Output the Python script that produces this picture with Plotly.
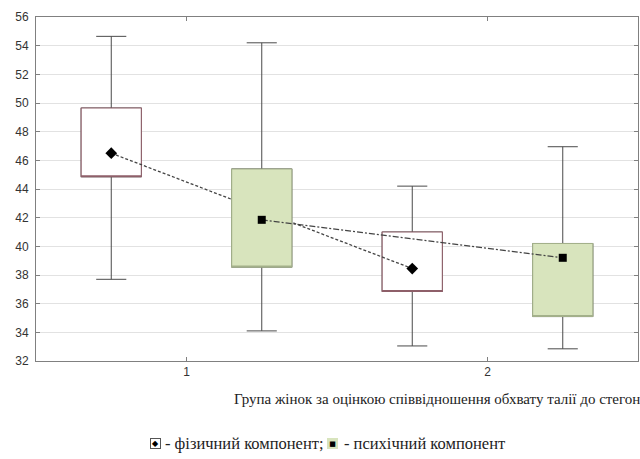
import plotly.graph_objects as go

# ---- data ----
groups = [1, 2]
tick_labels = ["1", "2"]

phys_upper = [54.65, 44.2]
phys_q3 = [49.65, 41.0]
phys_mean = [46.5, 38.45]
phys_q1 = [44.85, 36.85]
phys_lower = [37.7, 33.05]

ment_upper = [54.2, 46.95]
ment_q3 = [45.4, 40.2]
ment_mean = [41.85, 39.2]
ment_q1 = [38.55, 35.1]
ment_lower = [34.1, 32.85]

x_title = "Група жінок за оцінкою співвідношення обхвату талії до стегон"
legend_phys = "- фізичний компонент;"
legend_ment = "- психічний компонент"

# ---- styles ----
WHISK = "#4a4a4a"
PHYS_FILL = "#ffffff"
PHYS_EDGE = "#8e5f69"
MENT_FILL = "#d8e4bd"
MENT_EDGE = "#a3b08a"
OFF = 0.25
BW = 0.2

x_phys = [g - OFF for g in groups]
x_ment = [g + OFF for g in groups]

fig = go.Figure()


def add_series(x, upper, q3, mean, q1, lower, fill, edge, symbol, msize, dash, xa, ya):
    # whiskers with caps
    fig.add_trace(go.Box(
        x=x, q1=q1, median=q1, q3=q3, lowerfence=lower, upperfence=upper,
        width=BW, whiskerwidth=0.5, line=dict(color=WHISK, width=1),
        fillcolor="rgba(0,0,0,0)", boxpoints=False, hoverinfo="skip",
        showlegend=False, xaxis=xa, yaxis=ya))
    # box on top
    fig.add_trace(go.Box(
        x=x, q1=q1, median=q1, q3=q3, lowerfence=q1, upperfence=q3,
        width=BW, whiskerwidth=0, line=dict(color=edge, width=1.1),
        fillcolor=fill, boxpoints=False, hoverinfo="skip",
        showlegend=False, xaxis=xa, yaxis=ya))
    # mean markers joined by line
    fig.add_trace(go.Scatter(
        x=x, y=mean, mode="lines+markers",
        line=dict(color="#444444", width=1.3, dash=dash),
        marker=dict(symbol=symbol, size=msize, color="black"),
        showlegend=False, hoverinfo="skip", xaxis=xa, yaxis=ya))


add_series(x_phys, phys_upper, phys_q3, phys_mean, phys_q1, phys_lower,
           PHYS_FILL, PHYS_EDGE, "diamond", 9, "3px,2px", "x", "y")
add_series(x_ment, ment_upper, ment_q3, ment_mean, ment_q1, ment_lower,
           MENT_FILL, MENT_EDGE, "square", 8, "6px,2px,2px,2px", "x2", "y2")

AX = "#808080"
TICKFONT = dict(family="Liberation Sans, Arial, sans-serif", size=12, color="#333333")

fig.update_layout(
    width=640, height=459,
    margin=dict(l=36, r=2, t=17, b=98),
    paper_bgcolor="white", plot_bgcolor="white",
    boxmode="overlay",
    xaxis=dict(range=[0.5, 2.5], tickvals=groups, ticktext=tick_labels,
               showgrid=False, zeroline=False, showline=True, linecolor=AX,
               linewidth=1, mirror="ticks", ticks="inside", ticklen=4,
               tickcolor=AX, tickfont=TICKFONT),
    yaxis=dict(range=[32, 56], dtick=2, showgrid=True, gridcolor="#e2e2e2",
               gridwidth=1, zeroline=False, showline=True, linecolor=AX,
               linewidth=1, mirror="ticks", ticks="inside", ticklen=4,
               tickcolor=AX, tickfont=TICKFONT, ticklabelstandoff=4),
    xaxis2=dict(range=[0.5, 2.5], overlaying="x", visible=False, showgrid=False),
    yaxis2=dict(range=[32, 56], overlaying="y", visible=False, showgrid=False),
)

SERIF = "Liberation Serif"
H = 344.0
W = 602.0


def px_x(p):
    return (p - 36) / W


def px_y(p):
    return -(p - 361) / H


fig.add_annotation(text=x_title, xref="paper", yref="paper",
                   x=px_x(232), y=px_y(399), xanchor="left", yanchor="middle",
                   showarrow=False, font=dict(family=SERIF, size=15, color="#222222"))

# legend line
fig.add_annotation(text="◆", xref="paper", yref="paper", x=px_x(155), y=px_y(443),
                   xanchor="center", yanchor="middle", showarrow=False,
                   width=9, height=9, bgcolor=PHYS_FILL, bordercolor="#555555",
                   borderwidth=1, borderpad=0,
                   font=dict(family="DejaVu Sans", size=8, color="black"))
fig.add_annotation(text=legend_phys, xref="paper", yref="paper", x=px_x(163), y=px_y(443),
                   xanchor="left", yanchor="middle", showarrow=False,
                   font=dict(family=SERIF, size=16.5, color="#222222"))
fig.add_annotation(text="■", xref="paper", yref="paper", x=px_x(332), y=px_y(443),
                   xanchor="center", yanchor="middle", showarrow=False,
                   width=9, height=9, bgcolor=MENT_FILL, bordercolor=MENT_FILL,
                   borderwidth=1, borderpad=0,
                   font=dict(family="DejaVu Sans", size=7, color="black"))
fig.add_annotation(text=legend_ment, xref="paper", yref="paper", x=px_x(342), y=px_y(443),
                   xanchor="left", yanchor="middle", showarrow=False,
                   font=dict(family=SERIF, size=16.5, color="#222222"))

fig.write_html("out.html", config={"displayModeBar": False},
               post_script="document.body.style.margin='0';document.body.style.padding='0';")
